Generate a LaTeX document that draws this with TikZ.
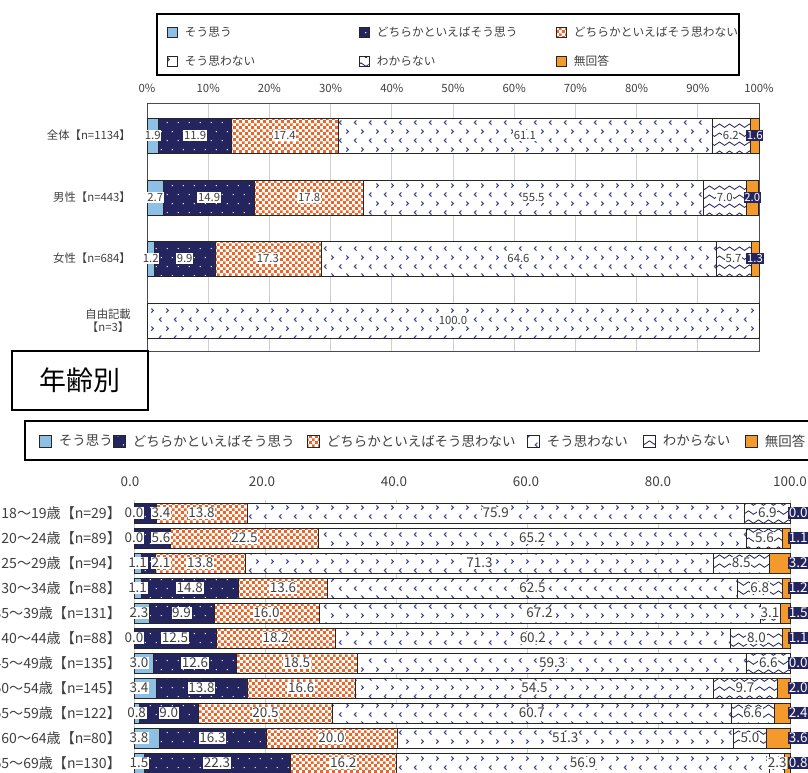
\documentclass[tikz,border=0pt]{standalone}
\usepackage{fontspec}
\setmainfont{Noto Sans CJK JP}
\usepackage{xcolor}
\usepackage{tikz}
\usetikzlibrary{positioning, patterns.meta}

\definecolor{lblue}{HTML}{8EBFE5}
\definecolor{navy}{HTML}{24245E}
\definecolor{oran}{HTML}{EE6426}
\definecolor{noans}{HTML}{F4992B}
\definecolor{chevc}{HTML}{3F4796}
\definecolor{txt}{HTML}{3F3F3F}
\definecolor{gridc}{HTML}{CFCFCF}

\tikzdeclarepattern{name=wdots, type=uncolored,
  bottom left={(0pt,0pt)}, top right={(9.4pt,15.3pt)}, tile size={(9.4pt,15.3pt)},
  code={\fill (2pt,3.8pt) circle (0.6pt); \fill (6.7pt,11.45pt) circle (0.6pt);}}
\tikzdeclarepattern{name=osq, type=uncolored,
  bottom left={(0pt,0pt)}, top right={(5.4pt,5.4pt)}, tile size={(5.4pt,5.4pt)},
  code={\fill (0.2pt,0.2pt) rectangle (2.6pt,2.6pt); \fill (2.9pt,2.9pt) rectangle (5.2pt,5.2pt);}}
\tikzdeclarepattern{name=chev, type=uncolored,
  bottom left={(0pt,0pt)}, top right={(12.8pt,15.3pt)}, tile size={(12.8pt,15.3pt)},
  code={\draw[line width=0.9pt] (2pt,13.3pt) -- (3.8pt,11.5pt) -- (2pt,9.7pt);
        \draw[line width=0.9pt] (10.6pt,5.6pt) -- (8.8pt,3.8pt) -- (10.6pt,2pt);}}
\tikzdeclarepattern{name=wave, type=uncolored,
  bottom left={(0pt,0pt)}, top right={(8.5pt,7.5pt)}, tile size={(8.5pt,7.5pt)},
  code={\draw[line width=0.7pt] (0pt,3.75pt) sin (2.125pt,5.25pt) cos (4.25pt,3.75pt)
        sin (6.375pt,2.25pt) cos (8.5pt,3.75pt);}}

\tikzset{
  seg/.style={draw=black!85, line width=0.5pt},
  s1/.style={seg, fill=lblue},
  s2/.style={seg, preaction={fill=navy}, pattern=wdots, pattern color=white},
  s3/.style={seg, preaction={fill=white}, pattern=osq, pattern color=oran},
  s4/.style={seg, preaction={fill=white}, pattern=chev, pattern color=chevc},
  s5/.style={seg, preaction={fill=white}, pattern=wave, pattern color=navy},
  s6/.style={seg, fill=noans},
  lgbox/.style={minimum size=0.3cm, inner sep=0pt},
  toplbl/.style={font=\fontsize{9.7}{11.5}\selectfont, text=txt, align=center},
  lgfont/.style={font=\fontsize{10}{12}\selectfont},
  botlbl/.style={font=\fontsize{12}{14}\selectfont, text=txt},
  botval/.style={font=\fontsize{11.5}{13}\selectfont, text=txt},
  val/.style={fill=white, inner ysep=1pt, inner xsep=0.6pt},
  endval/.style={fill=navy, text=white, inner ysep=1pt, inner xsep=0.6pt},
}

\newcommand\topbar[4]{%
  \node[toplbl, anchor=east] (#1) at (135,#2) {#3};
  \xdef\acc{0}%
  \foreach \v [count=\k] in {#4} {%
    \pgfmathsetmacro\xa{147+6.12*\acc}%
    \pgfmathsetmacro\xb{\xa+6.12*\v}%
    \ifdim\v pt>0pt \path[s\k] (\xa,#2-17.5) rectangle (\xb,#2+17.5); \fi
    \pgfmathsetmacro\nacc{\acc+\v}\xdef\acc{\nacc}%
  }%
  \xdef\acc{0}%
  \foreach \v [count=\k] in {#4} {%
    \pgfmathsetmacro\xa{147+6.12*\acc}%
    \pgfmathsetmacro\xb{\xa+6.12*\v}%
    \ifdim\v pt>0pt
      \ifnum\k=6 \node[toplbl, endval] (#1v\k) at ({(\xa+\xb)/2},#2) {\v};
      \else \node[toplbl, val] (#1v\k) at ({(\xa+\xb)/2},#2) {\v}; \fi
    \fi
    \pgfmathsetmacro\nacc{\acc+\v}\xdef\acc{\nacc}%
  }%
}

\newcommand\agebar[4]{%
  \node[botlbl, anchor=east] (#1) at (125,#2) {#3};
  \xdef\acc{0}%
  \foreach \v [count=\k] in {#4} {%
    \pgfmathsetmacro\xa{134+6.56*\acc}%
    \pgfmathsetmacro\xb{\xa+6.56*\v}%
    \ifdim\v pt>0pt \path[s\k] (\xa,#2-10) rectangle (\xb,#2+10); \fi
    \pgfmathsetmacro\nacc{\acc+\v}\xdef\acc{\nacc}%
  }%
  \xdef\acc{0}%
  \foreach \v [count=\k] in {#4} {%
    \pgfmathsetmacro\xa{134+6.56*\acc}%
    \pgfmathsetmacro\xb{\xa+6.56*\v}%
    \pgfmathsetmacro\xc{(\xa+\xb)/2}%
    \ifnum\k=1 \pgfmathsetmacro\xc{min(\xc,139)}\fi
    \ifnum\k=2 \pgfmathsetmacro\xc{max(\xc,161)}\fi
    \ifnum\k=6 \node[botval, endval, anchor=west] (#1v\k) at (788,#2) {\v};
    \else \node[botval, val] (#1v\k) at (\xc,#2) {\v}; \fi
    \pgfmathsetmacro\nacc{\acc+\v}\xdef\acc{\nacc}%
  }%
}

\begin{document}
\begin{tikzpicture}[x=0.03cm, y=-0.03cm]
\useasboundingbox (0,0) rectangle (808,772);
\clip (0,0) rectangle (808,772);

% top legend
\draw[line width=1pt] (157,14) rectangle (739,75);
\node[lgbox, s1] (tm1) at (172,32) {};
\node[lgbox, s2] (tm2) at (364,32) {};
\node[lgbox, s3] (tm3) at (561,32) {};
\node[lgbox, s4] (tm4) at (172,61) {};
\node[lgbox, s5] (tm5) at (364,61) {};
\node[lgbox, s6] (tm6) at (561,61) {};
\node[toplbl, lgfont, right=3pt of tm1] (tt1) {そう思う};
\node[toplbl, lgfont, right=3pt of tm2] (tt2) {どちらかといえばそう思う};
\node[toplbl, lgfont, right=3pt of tm3] (tt3) {どちらかといえばそう思わない};
\node[toplbl, lgfont, right=3pt of tm4] (tt4) {そう思わない};
\node[toplbl, lgfont, right=3pt of tm5] (tt5) {わからない};
\node[toplbl, lgfont, right=3pt of tm6] (tt6) {無回答};

% top chart
\foreach \p in {0,10,...,100}
    \node[toplbl] (tx\p) at (147+6.12*\p,88) {\p\%};
\foreach \p in {10,20,...,90}
    \draw[gridc, line width=0.6pt] (147+6.12*\p,103) -- (147+6.12*\p,351);
\draw[black!70, line width=0.8pt] (147,103) rectangle (759,351);
\topbar{all}{135.5}{全体【n=1134】}{1.9,11.9,17.4,61.1,6.2,1.6}
\topbar{male}{197.5}{男性【n=443】}{2.7,14.9,17.8,55.5,7.0,2.0}
\topbar{fem}{258.5}{女性【n=684】}{1.2,9.9,17.3,64.6,5.7,1.3}
\topbar{free}{320.5}{自由記載\\【n=3】}{0,0,0,100.0,0,0}

\node[draw, line width=0.9pt, minimum width=4.08cm, minimum height=1.77cm,
      font=\fontsize{23}{26}\selectfont] (age) at (80,380.5) {年齢別};

% bottom legend
\draw[line width=1pt] (25,421) rectangle (815,460);
\node[lgbox, minimum size=0.36cm, s1] (bm1) at (45,441) {};
\node[lgbox, minimum size=0.36cm, s2] (bm2) at (119,441) {};
\node[lgbox, minimum size=0.36cm, s3] (bm3) at (313,441) {};
\node[lgbox, minimum size=0.36cm, s4] (bm4) at (533,441) {};
\node[lgbox, minimum size=0.36cm, s5] (bm5) at (649,441) {};
\node[lgbox, minimum size=0.36cm, s6] (bm6) at (751,441) {};
\node[botval, right=3pt of bm1] (bt1) {そう思う};
\node[botval, right=3pt of bm2] (bt2) {どちらかといえばそう思う};
\node[botval, right=3pt of bm3] (bt3) {どちらかといえばそう思わない};
\node[botval, right=3pt of bm4] (bt4) {そう思わない};
\node[botval, right=3pt of bm5] (bt5) {わからない};
\node[botval, right=3pt of bm6] (bt6) {無回答};

% bottom chart
\foreach \p in {0,20,...,100}
    \node[botval] (bx\p) at (130+6.6*\p,482) {\p.0};
\foreach \p in {0,20,...,100}
    \draw[gridc, line width=0.6pt] (134+6.56*\p,500) -- (134+6.56*\p,772);
\agebar{r1}{513}{18〜19歳【n=29】}{0.0,3.4,13.8,75.9,6.9,0.0}
\agebar{r2}{538}{20〜24歳【n=89】}{0.0,5.6,22.5,65.2,5.6,1.1}
\agebar{r3}{563}{25〜29歳【n=94】}{1.1,2.1,13.8,71.3,8.5,3.2}
\agebar{r4}{588}{30〜34歳【n=88】}{1.1,14.8,13.6,62.5,6.8,1.2}
\agebar{r5}{613}{35〜39歳【n=131】}{2.3,9.9,16.0,67.2,3.1,1.5}
\agebar{r6}{638}{40〜44歳【n=88】}{0.0,12.5,18.2,60.2,8.0,1.1}
\agebar{r7}{663}{45〜49歳【n=135】}{3.0,12.6,18.5,59.3,6.6,0.0}
\agebar{r8}{688}{50〜54歳【n=145】}{3.4,13.8,16.6,54.5,9.7,2.0}
\agebar{r9}{713}{55〜59歳【n=122】}{0.8,9.0,20.5,60.7,6.6,2.4}
\agebar{r10}{738}{60〜64歳【n=80】}{3.8,16.3,20.0,51.3,5.0,3.6}
\agebar{r11}{763}{65〜69歳【n=130】}{1.5,22.3,16.2,56.9,2.3,0.8}
\end{tikzpicture}
\end{document}
